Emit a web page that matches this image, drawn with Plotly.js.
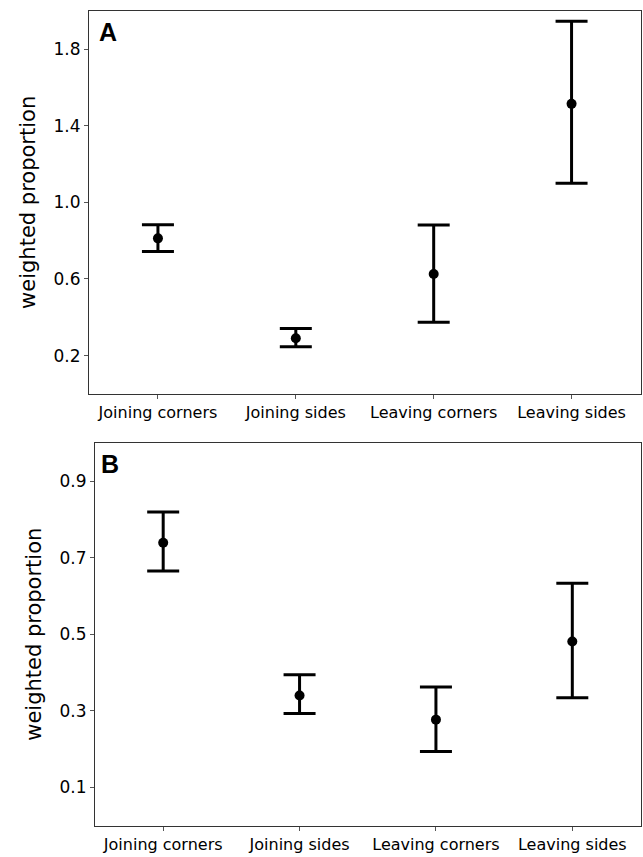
<!DOCTYPE html>
<html>
<head>
<meta charset="utf-8">
<script src="https://cdn.plot.ly/plotly-3.0.1.min.js"></script>
<style>html,body{margin:0;padding:0;background:#fff;}#chart{width:643px;height:857px;}</style>
</head>
<body>
<div id="chart"></div>
<script>
var categories = ["Joining corners", "Joining sides", "Leaving corners", "Leaving sides"];

var meanA  = [0.812, 0.291, 0.626, 1.514];
var upperA = [0.883, 0.341, 0.882, 1.945];
var lowerA = [0.744, 0.246, 0.374, 1.099];

var meanB  = [0.739, 0.340, 0.277, 0.481];
var upperB = [0.819, 0.394, 0.362, 0.633];
var lowerB = [0.665, 0.293, 0.194, 0.334];

var ticksA = [0.2, 0.6, 1.0, 1.4, 1.8];
var tickTextA = ["0.2", "0.6", "1.0", "1.4", "1.8"];
var ticksB = [0.1, 0.3, 0.5, 0.7, 0.9];
var tickTextB = ["0.1", "0.3", "0.5", "0.7", "0.9"];

function diff(a, b) { return a.map(function (v, i) { return v - b[i]; }); }

function trace(mean, upper, lower, xa, ya) {
  return {
    type: "scatter", mode: "markers",
    x: categories, y: mean, xaxis: xa, yaxis: ya,
    marker: {color: "#000", size: 10},
    error_y: {type: "data", symmetric: false,
      array: diff(upper, mean), arrayminus: diff(mean, lower),
      color: "#000", thickness: 3, width: 16},
    showlegend: false, hoverinfo: "x+y"
  };
}

var xfont = {family: "DejaVu Sans, Verdana, sans-serif", size: 16, color: "#000"};
var yfont = {family: "DejaVu Sans, Verdana, sans-serif", size: 17, color: "#000"};

function xax(domain, anchor) {
  return {domain: domain, anchor: anchor, type: "category", range: [-0.5, 3.5],
    showline: true, mirror: true, linecolor: "#333", linewidth: 1,
    ticks: "outside", ticklen: 4, tickcolor: "#555", tickfont: xfont,
    showgrid: false, zeroline: false, fixedrange: true, automargin: false};
}
function yax(domain, anchor, tv, tt, top) {
  return {domain: domain, anchor: anchor, range: [0, top],
    tickvals: tv, ticktext: tt,
    showline: true, mirror: true, linecolor: "#333", linewidth: 1,
    ticks: "outside", ticklen: 4, tickcolor: "#555", tickfont: yfont,
    showgrid: false, zeroline: false, fixedrange: true, automargin: false,
    title: {text: "weighted proportion", font: {family: "DejaVu Sans, Verdana, sans-serif", size: 21, color: "#000"}, standoff: 12}};
}

var layout = {
  width: 643, height: 857,
  margin: {l: 0, r: 0, t: 0, b: 0},
  paper_bgcolor: "#fff", plot_bgcolor: "#fff",
  xaxis: xax([89/643, 640.5/643], "y"),
  yaxis: yax([0.5403, 0.9875], "x", ticksA, tickTextA, 2.0),
  xaxis2: xax([95/643, 640.5/643], "y2"),
  yaxis2: yax([0.0365, 0.4834], "x2", ticksB, tickTextB, 1.0),
  annotations: [
    {text: "<b>A</b>", xref: "x domain", yref: "y domain", x: 0.015, y: 0.985, xanchor: "left", yanchor: "top",
     showarrow: false, font: {family: "Liberation Sans, Arial, sans-serif", size: 25, color: "#000"}},
    {text: "<b>B</b>", xref: "x2 domain", yref: "y2 domain", x: 0.008, y: 0.985, xanchor: "left", yanchor: "top",
     showarrow: false, font: {family: "Liberation Sans, Arial, sans-serif", size: 25, color: "#000"}}
  ]
};

Plotly.newPlot("chart", [trace(meanA, upperA, lowerA, "x", "y"), trace(meanB, upperB, lowerB, "x2", "y2")], layout, {displayModeBar: false, staticPlot: true});
</script>
</body>
</html>
